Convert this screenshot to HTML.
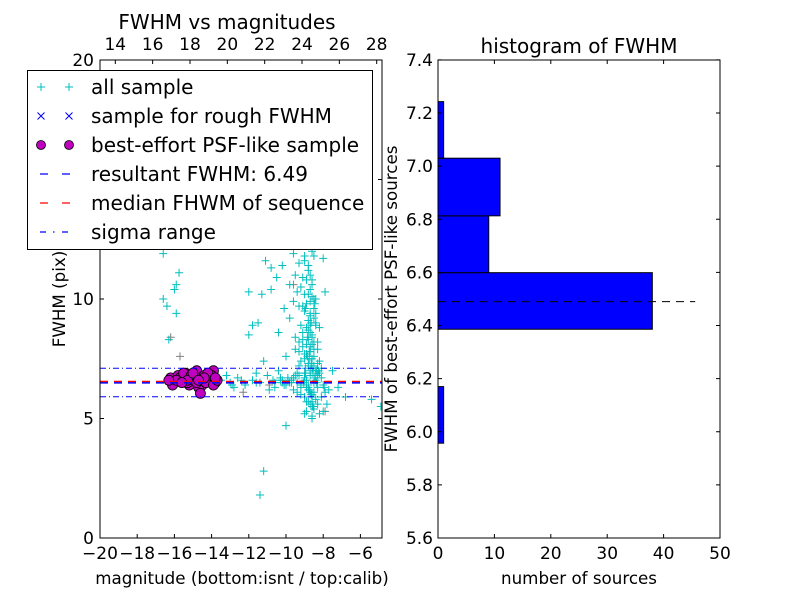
<!DOCTYPE html>
<html><head><meta charset="utf-8"><style>
html,body{margin:0;padding:0;background:#fff;}
svg{display:block;font-family:"DejaVu Sans","Liberation Sans",sans-serif;}
</style></head><body>
<svg id="fig" width="800" height="600" viewBox="0 0 800 600">
<rect width="800" height="600" fill="#fff"/>
<g id="left"></g>
<g id="right"></g>
</svg>
<script>
// ---- scatter data ----
const allX = [-16.6,-15.75,-15.9,-16.0,-16.6,-16.4,-15.9,-16.3,-9.0,-9.3,-8.8,-9.5,-9.1,-8.9,-9.8,-9.2,-8.7,-9.4,-10.5,-9.0,-8.6,-10.8,-9.6,-8.9,-11.3,-9.3,-8.5,-10.1,-9.0,-8.7,-9.8,-8.4,-9.2,-8.8,-10.4,-8.6,-9.1,-8.3,-8.9,-9.5,-8.7,-8.5,-9.0,-8.2,-8.8,-9.3,-8.6,-8.4,-9.0,-8.7,-8.1,-8.9,-8.5,-9.2,-8.3,-8.8,-8.6,-9.0,-8.4,-8.7,-8.5,-8.2,-8.6,-8.0,-7.8,-8.8,-9.4,-7.5,-10.0,-11.2,-11.4,-6.8,-5.4,-4.9,-7.2,-9.5,-8.2,-7.9,-8.5,-9.6,-8.0,-10.2,-11.1,-10.8,-13.5,-13.0,-12.6,-12.2,-11.8,-11.4,-11.0,-10.6,-10.2,-9.8,-12.8,-11.6,-10.9,-10.4,-12.4,-9.6,-13.2,-11.2,-10.0,-12.0,-11.8,-11.5,-12.0,-8.9,-8.7,-8.6,-9.1,-8.8,-8.4,-8.3,-8.7,-9.0,-8.5,-8.9,-8.6,-9.3,-8.2,-8.8,-8.5,-8.7,-9.1,-8.4,-8.6,-8.9,-9.7,-10.3,-14.3,-14.8,-15.5,-16.3,-8.1,-8.0,-9.4,-8.3,-9.9,-10.7,-11.6,-12.9,-7.7,-8.6,-9.2,
-8.9,-8.7,-8.8,-8.6,-8.5,-9.0,-8.75,-8.65,-8.95,-8.55,-8.45,-9.05,-8.8,-8.7,-8.6,-8.9,-8.4,-8.75,-8.35,-9.1,-8.85,-8.65,-8.5,-8.95,-8.7,-8.8,-8.6,-8.4,-9.2,-8.3,-8.75,-8.55,-8.9,-8.65,-8.8,-8.5,-9.0,-8.7,-8.6,-8.45,-8.85,-8.95,-8.35,-9.3,-8.25,-8.7,-8.8,-8.6,-9.0,-8.5,
-9.4,-9.7,-10.0,-10.3,-10.6,-9.2,-9.5,-9.9,-10.2,-9.3,-8.1,-7.9,-8.3,-9.0,-8.6,-7.95,-9.6,-10.1];
const allY = [11.9,11.1,10.6,10.4,10.0,9.7,9.4,8.3,11.6,11.5,11.2,11.0,10.9,10.8,10.6,10.5,10.4,10.3,10.9,10.2,10.1,10.4,9.9,9.8,10.2,9.7,9.6,9.6,9.5,9.3,9.2,9.0,8.9,8.7,8.6,8.5,8.3,8.2,8.1,7.9,7.8,7.6,7.5,7.4,7.3,7.2,7.1,7.0,6.9,6.8,6.7,6.6,6.5,6.4,6.3,6.2,6.0,5.9,5.8,5.6,5.4,5.2,5.0,5.3,5.6,5.7,6.1,7.0,4.7,2.8,1.8,5.9,5.8,5.5,6.3,8.4,8.8,10.3,11.8,11.9,11.7,11.4,11.6,11.3,6.6,6.5,6.7,6.4,6.6,6.5,6.8,6.3,6.6,6.5,6.3,6.9,6.2,7.0,6.6,6.7,6.8,7.4,7.6,8.5,8.9,9.0,10.3,7.7,8.0,8.4,8.6,9.1,9.4,7.9,7.0,6.7,6.1,6.3,5.7,6.8,6.9,7.2,8.2,8.9,9.7,10.0,7.5,6.4,6.5,6.6,6.5,6.6,6.7,6.6,7.1,6.4,6.9,7.3,6.7,6.6,6.5,6.4,6.2,5.5,6.0,
8.8,8.6,8.3,8.1,7.9,7.7,7.5,7.3,7.1,6.9,6.7,6.5,6.3,6.1,5.9,5.7,6.6,7.8,7.0,8.0,8.4,9.0,9.2,9.6,9.9,10.2,10.6,8.9,7.4,6.8,6.2,5.5,5.3,6.0,6.4,7.2,6.6,9.4,10.8,9.8,7.6,6.9,6.5,8.2,7.0,11.0,11.4,12.0,11.8,10.0,
6.5,6.6,6.4,6.7,6.5,6.3,6.8,6.6,6.5,7.8,5.9,6.1,5.6,5.2,5.1,6.3,6.2,6.4];
const grayX = [-16.2,-15.7,-7.9,-9.6,-10.9,-12.3];
const grayY = [8.4,7.6,5.3,10.6,6.4,6.1];
const psfX = [-16.2,-16.0,-15.8,-15.6,-15.4,-15.2,-15.0,-14.8,-14.6,-14.4,-14.2,-14.0,-13.8,-16.1,-15.7,-15.3,-14.9,-14.5,-14.1,-13.9,-15.5,-15.1,-14.7,-14.3,-15.9,-14.0,-13.9,-14.6,-15.3,-14.8,-16.3,-14.2,-13.7,-15.6,-14.4,-15.0,-14.7,-13.8];
const psfY = [6.7,6.5,6.8,6.6,6.9,6.4,6.7,7.0,6.5,6.8,6.6,6.9,6.5,6.4,6.7,6.5,6.6,6.4,6.7,7.0,6.9,6.8,6.3,6.5,6.6,6.8,6.4,6.05,6.6,6.5,6.6,6.9,6.6,6.5,6.7,6.9,6.6,6.7];
const resultFWHM = 6.49, medianFWHM = 6.55, sigmaHi = 7.10, sigmaLo = 5.91;
const xTicksBottom = [-20,-18,-16,-14,-12,-10,-8,-6];
const xTicksTop = [14,16,18,20,22,24,26,28];
const yTicksLeft = [0,5,10,15,20];
// ---- histogram data ----
const binEdges = [5.957,6.170,6.386,6.599,6.813,7.030,7.243];
const binCounts = [1,0,38,9,11,1];
const histXTicks = [0,10,20,30,40,50];
const histYTicks = [5.6,5.8,6.0,6.2,6.4,6.6,6.8,7.0,7.2,7.4];

const NS='http://www.w3.org/2000/svg';
function mk(parent,tag,attrs,text){const e=document.createElementNS(NS,tag);for(const k in attrs)e.setAttribute(k,attrs[k]);if(text!==undefined)e.textContent=text;parent.appendChild(e);return e;}
const fmt=v=>String(v).replace('-','\u2212');
const TF=17, LF=16.7;

// ---- left panel ----
const L=document.getElementById('left');
const lx0=100,lx1=382,ly0=60,ly1=538;
const sx=v=>lx0+(v+20)*18.6;
const sxTop=v=>lx0+(v-13.18)*18.67;
const sy=v=>ly1-v*23.9;
const clip=mk(L,'clipPath',{id:'lclip'});mk(clip,'rect',{x:lx0,y:ly0,width:lx1-lx0,height:ly1-ly0});
const plot=mk(L,'g',{'clip-path':'url(#lclip)'});


function plus(g,x,y,c){return mk(g,'path',{d:`M${x-4},${y}H${x+4}M${x},${y-4}V${y+4}`,stroke:c,'stroke-width':1,fill:'none'});}
for(let i=0;i<grayX.length;i++){const p=plus(plot,sx(grayX[i]),sy(grayY[i]),'#808080');

}
for(let i=0;i<allX.length;i++){const p=plus(plot,sx(allX[i]),sy(allY[i]),'#00bfbf');

}
for(let i=0;i<psfX.length;i++){const c=mk(plot,'circle',{cx:sx(psfX[i]),cy:sy(psfY[i]),r:5,fill:'#bf00bf',stroke:'#000','stroke-width':0.8});

}
let ln=mk(plot,'line',{x1:lx0,x2:lx1,y1:sy(sigmaHi),y2:sy(sigmaHi),stroke:'#0000ff','stroke-width':1,'stroke-dasharray':'6,3,1,3'});

ln=mk(plot,'line',{x1:lx0,x2:lx1,y1:sy(sigmaLo),y2:sy(sigmaLo),stroke:'#0000ff','stroke-width':1,'stroke-dasharray':'6,3,1,3'});

ln=mk(plot,'line',{x1:lx0,x2:lx1,y1:sy(medianFWHM),y2:sy(medianFWHM),stroke:'#ff0000','stroke-width':1.5,'stroke-dasharray':'8,6'});

ln=mk(plot,'line',{x1:lx0,x2:lx1,y1:sy(resultFWHM),y2:sy(resultFWHM),stroke:'#0000ff','stroke-width':1.5,'stroke-dasharray':'8,6'});

mk(L,'rect',{x:lx0,y:ly0,width:lx1-lx0,height:ly1-ly0,fill:'none',stroke:'#000','stroke-width':1});
for(const t of xTicksBottom){const x=sx(t);mk(L,'path',{d:`M${x},${ly1}v-4`,stroke:'#000'});
const tx=mk(L,'text',{x:x,y:559,'font-size':TF,'text-anchor':'middle'},fmt(t));
}
for(const t of xTicksTop){const x=sxTop(t);mk(L,'path',{d:`M${x},${ly0}v4`,stroke:'#000'});
const tx=mk(L,'text',{x:x,y:50,'font-size':TF,'text-anchor':'middle'},t);
}
for(const t of yTicksLeft){const y=sy(t);mk(L,'path',{d:`M${lx0},${y}h4M${lx1},${y}h-4`,stroke:'#000'});
const tx=mk(L,'text',{x:94,y:y+6,'font-size':TF,'text-anchor':'end'},t);
}
let t=mk(L,'text',{x:227,y:29,'font-size':20,'text-anchor':'middle'},'FWHM vs magnitudes');

t=mk(L,'text',{x:242,y:584,'font-size':LF,'text-anchor':'middle'},'magnitude (bottom:isnt / top:calib)');

t=mk(L,'text',{x:0,y:0,'font-size':LF,'text-anchor':'middle',transform:'translate(65,299) rotate(-90)'},'FWHM (pix)');

// legend
const lg=mk(L,'g',{});

mk(lg,'rect',{x:27.5,y:70.5,width:345,height:179,fill:'#fff',stroke:'#000','stroke-width':1});
const labels=['all sample','sample for rough FWHM','best-effort PSF-like sample','resultant FWHM: 6.49','median FHWM of sequence','sigma range'];
labels.forEach((s,i)=>{const y=87+i*29;
const e=mk(lg,'text',{x:91,y:y+7,'font-size':20},s);

if(i==0){plus(lg,41,y,'#00bfbf');plus(lg,69,y,'#00bfbf');}
if(i==1){for(const x of [41,69])mk(lg,'path',{d:`M${x-3.5},${y-3.5}l7,7M${x-3.5},${y+3.5}l7,-7`,stroke:'#0000ff'});}
if(i==2){for(const x of [41,69])mk(lg,'circle',{cx:x,cy:y,r:4.5,fill:'#bf00bf',stroke:'#000','stroke-width':0.8});}
if(i==3)mk(lg,'path',{d:`M40,${y}h8M62,${y}h8`,stroke:'#0000ff','stroke-width':1.2});
if(i==4)mk(lg,'path',{d:`M40,${y}h8M62,${y}h8`,stroke:'#ff0000','stroke-width':1.2});
if(i==5)mk(lg,'path',{d:`M40,${y}h6M53,${y}h1.5M62,${y}h6`,stroke:'#0000ff','stroke-width':1.2});
});

// ---- right panel ----
const R=document.getElementById('right');
const rx0=438,rx1=720,ry0=60,ry1=538;
const hx=v=>rx0+v*(rx1-rx0)/50;
const hy=v=>ry1-(v-5.6)*265.6;
for(let i=0;i<binCounts.length;i++){if(!binCounts[i])continue;
const b=mk(R,'rect',{x:hx(0),y:hy(binEdges[i+1]),width:hx(binCounts[i])-hx(0),height:hy(binEdges[i])-hy(binEdges[i+1]),fill:'#0000ff',stroke:'#000','stroke-width':1});
}
ln=mk(R,'line',{x1:hx(0),x2:hx(45.6),y1:hy(resultFWHM),y2:hy(resultFWHM),stroke:'#000','stroke-width':1,'stroke-dasharray':'8,6'});

mk(R,'rect',{x:rx0,y:ry0,width:rx1-rx0,height:ry1-ry0,fill:'none',stroke:'#000','stroke-width':1});
for(const v of histXTicks){const x=hx(v);mk(R,'path',{d:`M${x},${ry1}v-4M${x},${ry0}v4`,stroke:'#000'});
const tx=mk(R,'text',{x:x,y:559,'font-size':TF,'text-anchor':'middle'},v);
}
for(const v of histYTicks){const y=hy(v);mk(R,'path',{d:`M${rx0},${y}h4M${rx1},${y}h-4`,stroke:'#000'});
const tx=mk(R,'text',{x:433,y:y+6,'font-size':TF,'text-anchor':'end'},v.toFixed(1));
}
t=mk(R,'text',{x:579,y:53,'font-size':20,'text-anchor':'middle'},'histogram of FWHM');

t=mk(R,'text',{x:579,y:584,'font-size':LF,'text-anchor':'middle'},'number of sources');

t=mk(R,'text',{x:0,y:0,'font-size':LF,'text-anchor':'middle',transform:'translate(397,299) rotate(-90)'},'FWHM of best-effort PSF-like sources');

</script>
</body></html>
